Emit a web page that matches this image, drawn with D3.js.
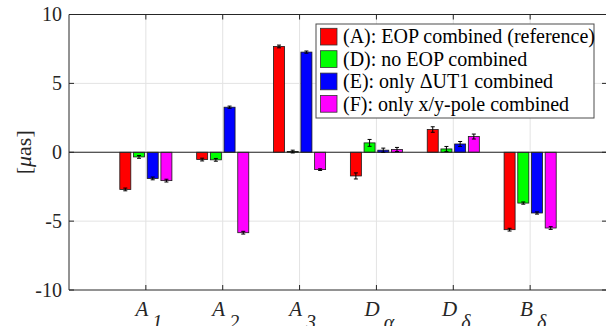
<!DOCTYPE html>
<html>
<head>
<meta charset="utf-8">
<script src="https://cdn.jsdelivr.net/npm/d3@7"></script>
<style>
  html, body { margin: 0; padding: 0; background: #fff; }
  svg { display: block; }
  svg text { font-family: "Liberation Serif", "DejaVu Serif", serif; }
</style>
</head>
<body>
<svg id="chart" width="606" height="326"></svg>
<script>
// Parameters (category labels: main letter + subscript)
const categories = [
  { main: "A", sub: "1" },
  { main: "A", sub: "2" },
  { main: "A", sub: "3" },
  { main: "D", sub: "α" },
  { main: "D", sub: "δ" },
  { main: "B", sub: "δ" }
];

const seriesNames = [
  "(A): EOP combined (reference)",
  "(D): no EOP combined",
  "(E): only ΔUT1 combined",
  "(F): only x/y-pole combined"
];
const seriesColors = ["#ff0000", "#00ff00", "#0000ff", "#ff00ff"];

// Values per series, in µas, one per category
const valuesA = [-2.70, -0.53, 7.68, -1.72, 1.65, -5.62];
const valuesD = [-0.34, -0.55, 0.05, 0.68, 0.24, -3.69];
const valuesE = [-1.90, 3.27, 7.27, 0.15, 0.60, -4.41];
const valuesF = [-2.06, -5.84, -1.26, 0.20, 1.14, -5.50];

// Formal errors (one sigma), in µas
const errorsA = [0.10, 0.10, 0.10, 0.22, 0.20, 0.10];
const errorsD = [0.10, 0.10, 0.10, 0.25, 0.18, 0.08];
const errorsE = [0.10, 0.08, 0.08, 0.15, 0.18, 0.08];
const errorsF = [0.10, 0.10, 0.06, 0.15, 0.18, 0.10];

const yTicks = [-10, -5, 0, 5, 10];

const seriesValues = [valuesA, valuesD, valuesE, valuesF];
const seriesErrors = [errorsA, errorsD, errorsE, errorsF];

const FONT = '"Liberation Serif", "DejaVu Serif", serif';
const svg = d3.select("#chart");
const axisColor = "#262626";
const gridColor = "#e3e3e3";

// Plot box
const boxL = 69, boxT = 14.5, boxB = 290, boxR = 607;

const x = d3.scaleLinear().domain([0, 7]).range([boxL, boxR]);
const y = d3.scaleLinear().domain([-10, 10]).range([boxB, boxT]);

// Grid lines
const grid = svg.append("g");
grid.selectAll("line.vg").data(categories).join("line")
  .attr("x1", (d, i) => x(i + 1)).attr("x2", (d, i) => x(i + 1))
  .attr("y1", boxT).attr("y2", boxB)
  .attr("stroke", gridColor).attr("stroke-width", 1);
grid.selectAll("line.hg").data(yTicks.filter(t => t !== -10 && t !== 10)).join("line")
  .attr("x1", boxL).attr("x2", boxR)
  .attr("y1", d => y(d)).attr("y2", d => y(d))
  .attr("stroke", gridColor).attr("stroke-width", 1);

// Bars
const barW = 11;
const step = 13.7;
const offsets = [-1.5, -0.5, 0.5, 1.5].map(k => k * step);

const bars = svg.append("g");
seriesValues.forEach((vals, s) => {
  const g = bars.append("g");
  g.selectAll("rect").data(vals).join("rect")
    .attr("x", (d, i) => x(i + 1) + offsets[s] - barW / 2)
    .attr("y", d => y(Math.max(0, d)))
    .attr("width", barW)
    .attr("height", d => Math.abs(y(d) - y(0)))
    .attr("fill", seriesColors[s])
    .attr("stroke", "#1a1a1a")
    .attr("stroke-width", 0.8);
});

// Zero baseline
svg.append("line")
  .attr("x1", boxL).attr("x2", boxR)
  .attr("y1", y(0)).attr("y2", y(0))
  .attr("stroke", axisColor).attr("stroke-width", 1);

// Error bars
const errs = svg.append("g").attr("stroke", "#000").attr("stroke-width", 1);
seriesValues.forEach((vals, s) => {
  vals.forEach((v, i) => {
    const cx = x(i + 1) + offsets[s];
    const e = seriesErrors[s][i];
    errs.append("line").attr("x1", cx).attr("x2", cx)
      .attr("y1", y(v - e)).attr("y2", y(v + e));
    [v - e, v + e].forEach(yy => {
      errs.append("line").attr("x1", cx - 2).attr("x2", cx + 2)
        .attr("y1", y(yy)).attr("y2", y(yy));
    });
  });
});

// Axis box and ticks
const ax = svg.append("g").attr("stroke", axisColor).attr("stroke-width", 1).attr("fill", "none");
ax.append("line").attr("x1", boxL).attr("x2", boxR).attr("y1", boxT).attr("y2", boxT);
ax.append("line").attr("x1", boxL).attr("x2", boxR).attr("y1", boxB).attr("y2", boxB);
ax.append("line").attr("x1", boxL).attr("x2", boxL).attr("y1", boxT).attr("y2", boxB);
ax.append("line").attr("x1", boxR).attr("x2", boxR).attr("y1", boxT).attr("y2", boxB);

const tickLen = 5;
categories.forEach((c, i) => {
  const xx = x(i + 1);
  ax.append("line").attr("x1", xx).attr("x2", xx).attr("y1", boxB).attr("y2", boxB - tickLen);
  ax.append("line").attr("x1", xx).attr("x2", xx).attr("y1", boxT).attr("y2", boxT + tickLen);
});
yTicks.forEach(t => {
  ax.append("line").attr("x1", boxL).attr("x2", boxL + tickLen).attr("y1", y(t)).attr("y2", y(t));
  ax.append("line").attr("x1", boxR).attr("x2", boxR - tickLen).attr("y1", y(t)).attr("y2", y(t));
});

// Y tick labels
svg.append("g").selectAll("text").data(yTicks).join("text")
  .attr("x", boxL - 7)
  .attr("y", d => y(d))
  .attr("dy", "0.34em")
  .attr("text-anchor", "end")
  .attr("font-family", FONT)
  .attr("font-size", 20)
  .attr("fill", axisColor)
  .text(d => d);

// X tick labels (italic letter with italic subscript)
const xl = svg.append("g");
categories.forEach((c, i) => {
  const t = xl.append("text")
    .attr("x", x(i + 1) + 3)
    .attr("y", 316)
    .attr("text-anchor", "middle")
    .attr("font-family", FONT)
    .attr("font-size", 21)
    .attr("font-style", "italic")
    .attr("fill", axisColor);
  t.append("tspan").text(c.main);
  t.append("tspan").attr("dx", 4).attr("dy", 13).attr("font-size", 20).text(c.sub);
});

// Y axis title
const yt = svg.append("text")
  .attr("transform", `translate(30.5,${y(0)}) rotate(-90)`)
  .attr("text-anchor", "middle")
  .attr("font-family", FONT)
  .attr("font-size", 22)
  .attr("fill", axisColor);
yt.append("tspan").text("[");
yt.append("tspan").attr("font-style", "italic").text("μ");
yt.append("tspan").text("as]");

// Legend
const lg = svg.append("g");
const lgX = 316, lgY = 24, lgW = 278, lgH = 94;
lg.append("rect")
  .attr("x", lgX).attr("y", lgY).attr("width", lgW).attr("height", lgH)
  .attr("fill", "#fff").attr("stroke", "#4d4d4d").attr("stroke-width", 1);
seriesNames.forEach((name, s) => {
  const ry = lgY + 4.3 + s * 22.4;
  lg.append("rect")
    .attr("x", lgX + 4.5).attr("y", ry).attr("width", 16.5).attr("height", 16.7)
    .attr("fill", seriesColors[s]).attr("stroke", "#333").attr("stroke-width", 0.8);
  lg.append("text")
    .attr("x", lgX + 27).attr("y", ry + 15)
    .attr("font-family", FONT)
    .attr("font-size", 20)
    .attr("fill", "#000")
    .text(name);
});
</script>
</body>
</html>
